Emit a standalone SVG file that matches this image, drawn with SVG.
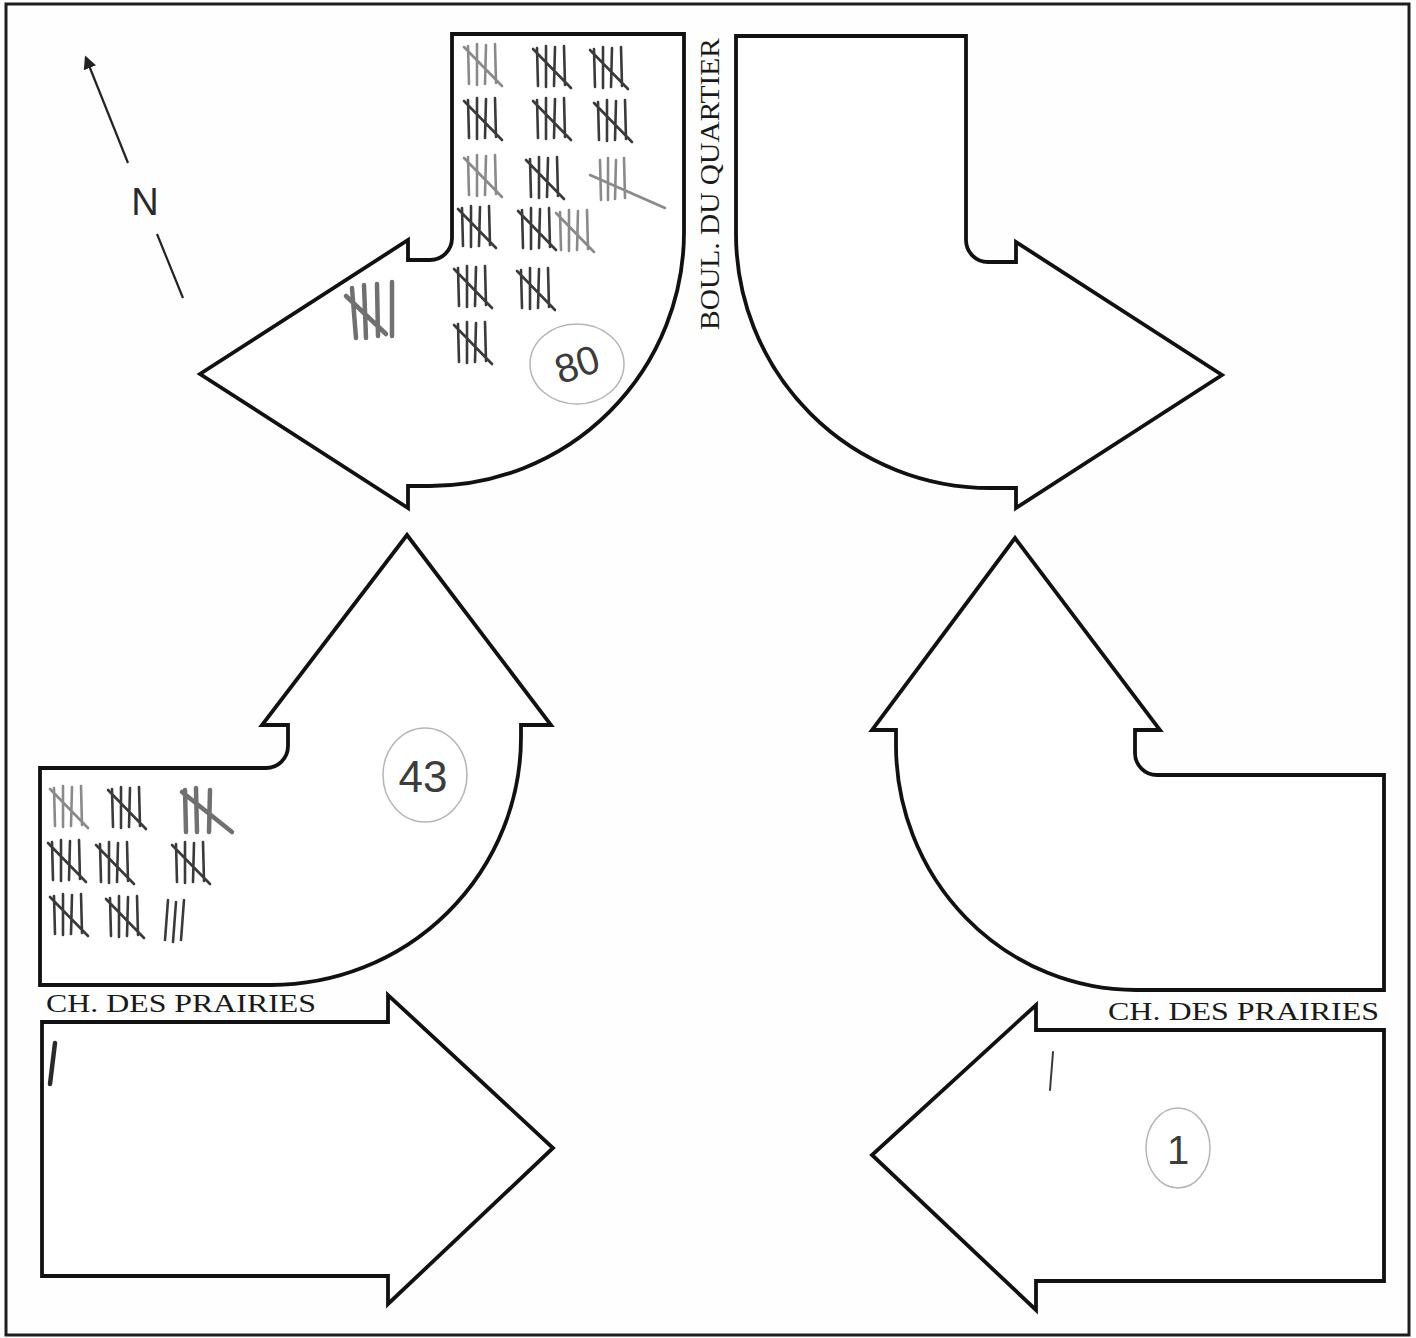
<svg xmlns="http://www.w3.org/2000/svg" xmlns:xlink="http://www.w3.org/1999/xlink" width="1416" height="1338" viewBox="0 0 1416 1338">
<style>
.arrow{fill:#ffffff;stroke:#111;stroke-width:3.8;stroke-linejoin:miter}
.road{font-family:"Liberation Serif","DejaVu Serif",serif;fill:#1a1a1a}
.pen{fill:none;stroke:#3a3a3a;stroke-width:2.6;stroke-linecap:round}
.pale{stroke:#8a8a8a}
.heavy{stroke:#707070;stroke-width:4.5}
.ring{fill:none;stroke:#b5b5b5;stroke-width:1.5}
.hand{font-family:"Liberation Sans","DejaVu Sans",sans-serif;fill:#3c3c3c;font-weight:300}
</style>
<defs>
<g id="t5"><path d="M0,2 L1,40 M9,0 L9,41 M18,1 L17,40 M27,0 L28,39 M-4,3 L34,42"/></g>
<g id="t3"><path d="M0,0 L-3,40 M8,2 L5,42 M16,0 L13,40"/></g>
<marker id="nhead" viewBox="0 0 10 10" refX="8" refY="5" markerWidth="6" markerHeight="6" orient="auto"><path d="M0,0 L10,5 L0,10 Z" fill="#222"/></marker>
</defs>
<rect x="0" y="0" width="1416" height="1338" fill="#fefefe"/>
<rect x="6" y="4" width="1403" height="1331" fill="none" stroke="#1e1e1e" stroke-width="3"/>

<g id="compass">
<line x1="128" y1="163" x2="86" y2="58" stroke="#222" stroke-width="2.2" marker-end="url(#nhead)"/>
<line x1="157" y1="234" x2="183" y2="298" stroke="#222" stroke-width="2.2"/>
<text x="145" y="215" text-anchor="middle" font-family="Liberation Sans, Arial, sans-serif" font-size="38" fill="#2a2a2a">N</text>
</g>

<g id="label-boul">
<text class="road" transform="translate(719,330) rotate(-90)" font-size="27" textLength="292" lengthAdjust="spacingAndGlyphs">BOUL. DU QUARTIER</text>
</g>

<g id="arrow-north-right">
<path class="arrow" d="M452,34 H684 V232 A254,254 0 0 1 430,486 H408 V508 L200,374 L408,240 V260 H430 A22,22 0 0 0 452,238 Z"/>
<g class="pen">
<use xlink:href="#t5" x="468" y="44" class="pale"/>
<use xlink:href="#t5" x="537" y="46"/>
<use xlink:href="#t5" x="594" y="47"/>
<use xlink:href="#t5" x="468" y="98"/>
<use xlink:href="#t5" x="537" y="98"/>
<use xlink:href="#t5" x="598" y="100"/>
<use xlink:href="#t5" x="468" y="155" class="pale"/>
<use xlink:href="#t5" x="530" y="157"/>
<path d="M600,160 L601,200 M608,158 L608,200 M616,160 L615,199 M624,158 L625,198 M590,175 L665,208" class="pale"/>
<use xlink:href="#t5" x="462" y="206"/>
<use xlink:href="#t5" x="522" y="208"/>
<use xlink:href="#t5" x="560" y="210" class="pale"/>
<use xlink:href="#t5" x="458" y="266"/>
<use xlink:href="#t5" x="521" y="268"/>
<use xlink:href="#t5" x="458" y="322"/>
<g class="heavy"><path d="M352,288 L356,338 M364,285 L366,338 M377,284 L378,336 M392,282 L392,336 M346,296 L386,334"/></g>
</g>
<ellipse class="ring" cx="577" cy="364" rx="47" ry="40"/>
<text class="hand" x="577" y="378" font-size="40" text-anchor="middle" transform="rotate(-18 577 364)">80</text>
</g>

<g id="arrow-north-left">
<path class="arrow" d="M736,36 H966 V240 A22,22 0 0 0 988,262 H1016 V242 L1222,375 L1016,508 V488 H990 A254,254 0 0 1 736,234 Z"/>
</g>

<g id="arrow-west-left">
<path class="arrow" d="M40,768 H266 A22,22 0 0 0 288,746 V725 H262 L407,535 L551,725 H521 V737 A250,248 0 0 1 271,985 H40 Z"/>
<g class="pen">
<use xlink:href="#t5" x="54" y="786" class="pale"/>
<use xlink:href="#t5" x="112" y="787"/>
<g class="heavy"><path d="M185,790 L186,832 M196,788 L197,832 M210,790 L209,832 M182,792 L232,832"/></g>
<use xlink:href="#t5" x="52" y="840"/>
<use xlink:href="#t5" x="100" y="842"/>
<use xlink:href="#t5" x="176" y="842"/>
<use xlink:href="#t5" x="54" y="894"/>
<use xlink:href="#t5" x="110" y="896"/>
<use xlink:href="#t3" x="168" y="900"/>
</g>
<ellipse class="ring" cx="425" cy="775" rx="42" ry="47"/>
<text class="hand" x="423" y="792" font-size="44" text-anchor="middle">43</text>
</g>

<g id="arrow-east-right">
<path class="arrow" d="M1384,775 H1157 A22,22 0 0 1 1135,753 V730 H1160 L1015,538 L872,730 H896 V745 A240,245 0 0 0 1136,990 H1384 Z"/>
</g>

<g id="arrow-west-through">
<text class="road" x="46" y="1012" font-size="26" textLength="270" lengthAdjust="spacingAndGlyphs">CH. DES PRAIRIES</text>
<path class="arrow" d="M42,1022 H388 V995 L553,1148 L388,1304 V1276 H42 Z"/>
<path class="pen" style="stroke-width:4.5;stroke:#2a2a2a" d="M55,1043 L50,1084"/>
</g>

<g id="arrow-east-through">
<text class="road" x="1108" y="1020" font-size="26" textLength="271" lengthAdjust="spacingAndGlyphs">CH. DES PRAIRIES</text>
<path class="arrow" d="M1384,1030 H1036 V1005 L872,1155 L1036,1310 V1281 H1384 Z"/>
<path class="pen" style="stroke-width:2" d="M1053,1052 L1050,1090"/>
<ellipse class="ring" cx="1178" cy="1148" rx="32" ry="40"/>
<text class="hand" x="1178" y="1164" font-size="40" text-anchor="middle">1</text>
</g>
</svg>
